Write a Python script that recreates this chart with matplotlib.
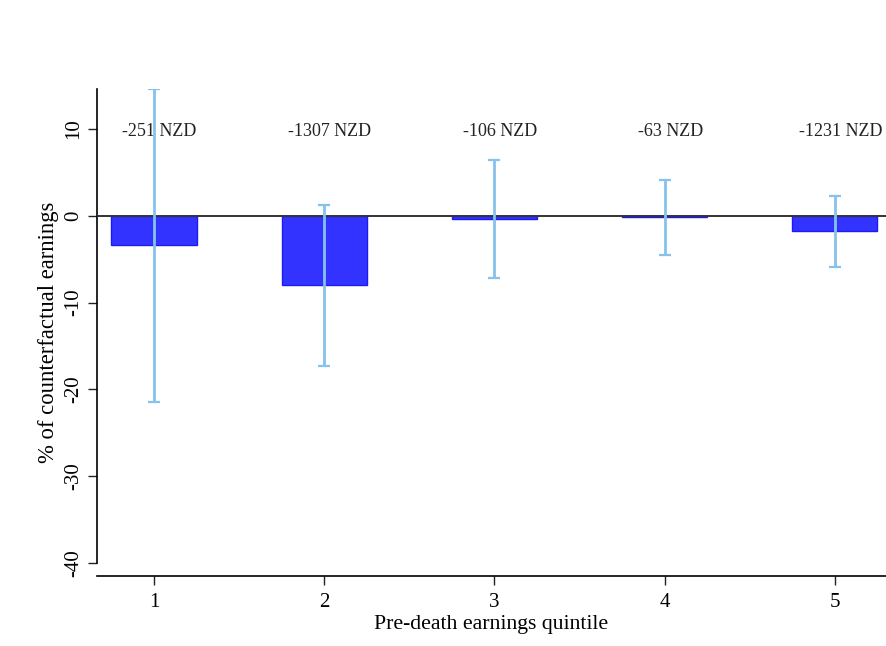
import matplotlib
matplotlib.use("Agg")
import matplotlib.pyplot as plt
import numpy as np

quintiles = [1, 2, 3, 4, 5]
pct_effect = [-3.36, -8.0, -0.35, -0.1, -1.74]
ci_upper = [14.6, 1.2, 6.4, 4.1, 2.3]
ci_lower = [-21.4, -17.3, -7.2, -4.5, -5.9]
nzd_labels = ["-251 NZD", "-1307 NZD", "-106 NZD", "-63 NZD", "-1231 NZD"]
yticks = [-40, -30, -20, -10, 0, 10]

plt.rcParams['font.family'] = ['Liberation Serif', 'DejaVu Serif']

W, H = 886, 646
fig = plt.figure(figsize=(W / 100, H / 100), dpi=100)
left, right, bottom, top = 97, 886, 576, 89
ax = fig.add_axes([left / W, (H - bottom) / H, (right - left) / W, (bottom - top) / H])

x = np.array(quintiles)
vals = np.array(pct_effect)
ax.bar(x, vals, width=0.5, color='#3333ff', edgecolor='#1a1aff', linewidth=1.0, zorder=2)
ax.axhline(0, color='#333333', linewidth=1.4, zorder=3)
yerr = np.vstack([vals - np.array(ci_lower), np.array(ci_upper) - vals])
ax.errorbar(x, vals, yerr=yerr, fmt='none', ecolor='#86c2ec', elinewidth=2.0,
            capsize=4.5, capthick=1.6, zorder=4)

for xi, lab in zip(x, nzd_labels):
    ax.annotate(lab, (xi, 10), xytext=(4, -1.5), textcoords='offset points',
                ha='center', va='center', fontsize=13, color='#222222')

ax.set_xlim(0.665, 5.3)
ax.set_ylim(-41.5, 14.6)
ax.set_xticks(quintiles)
ax.set_yticks(yticks)
ax.set_yticklabels([str(t) for t in yticks], rotation=90, va='center')
ax.tick_params(axis='both', labelsize=15, length=6.5, width=1.0, color='#222222')
ax.tick_params(axis='x', pad=6)
ax.tick_params(axis='y', pad=3.5)

for s in ['top', 'right']:
    ax.spines[s].set_visible(False)
ax.spines['left'].set_bounds(-40, 14.6)
ax.spines['left'].set_linewidth(1.2)
ax.spines['bottom'].set_linewidth(1.2)

ax.set_xlabel('Pre-death earnings quintile', fontsize=15.7, labelpad=2)
ax.set_ylabel('% of counterfactual earnings', fontsize=16.3, labelpad=4)

fig.savefig('out.png', dpi=100)
